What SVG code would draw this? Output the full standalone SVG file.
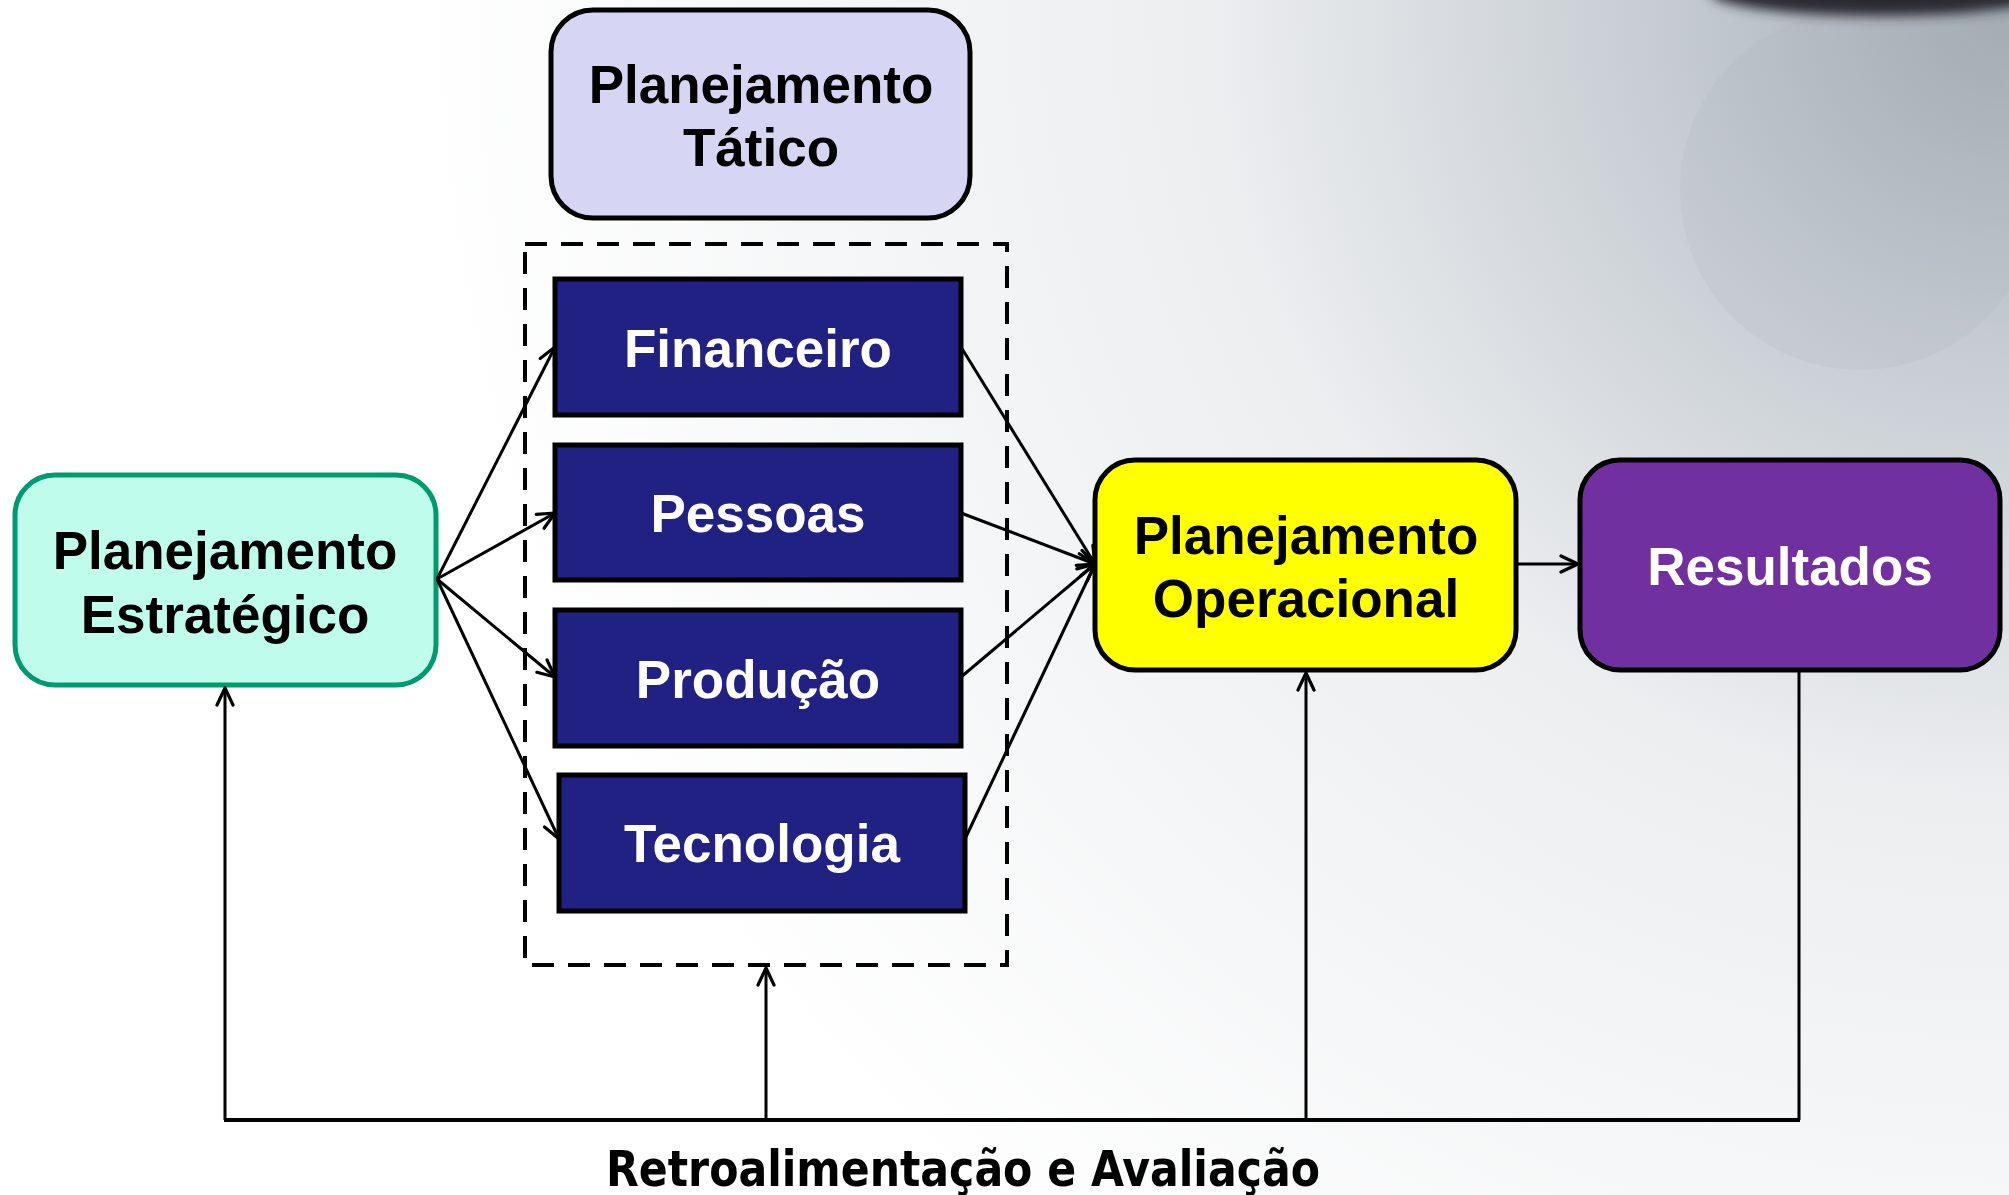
<svg xmlns="http://www.w3.org/2000/svg" width="2009" height="1195" viewBox="0 0 2009 1195">
<defs>
<radialGradient id="bg" cx="2009" cy="0" r="1600" gradientUnits="userSpaceOnUse">
<stop offset="0" stop-color="#a2aab2"/>
<stop offset="0.22" stop-color="#c6ccd2"/>
<stop offset="0.5" stop-color="#eceef0"/>
<stop offset="1" stop-color="#ffffff"/>
</radialGradient>
<filter id="blur" x="-20%" y="-50%" width="140%" height="200%"><feGaussianBlur stdDeviation="6"/></filter>
<marker id="arr" viewBox="0 0 22 22" refX="20" refY="11" markerWidth="22" markerHeight="22" markerUnits="userSpaceOnUse" orient="auto">
<path d="M3,3 L20,11 L3,19" fill="none" stroke="#000" stroke-width="3.2" stroke-linecap="round" stroke-linejoin="round"/>
</marker>
</defs>
<style>
.t{font-family:"Liberation Sans",Arial,sans-serif;font-weight:bold;font-size:53px;text-anchor:middle}
.w{fill:#fff}
.k{fill:#000}
.blue{fill:#212184;stroke:#000;stroke-width:5}
.c{stroke:#000;stroke-width:3;fill:none}
</style>
<rect width="2009" height="1195" fill="url(#bg)"/>
<circle cx="1860" cy="190" r="180" fill="#aab1b8" opacity="0.15"/>
<ellipse cx="1880" cy="-8" rx="170" ry="24" fill="#2a2c30" filter="url(#blur)"/>

<g id="tatico">
<rect x="551" y="10" width="419" height="208" rx="42" fill="#d6d6f4" stroke="#000" stroke-width="5"/>
<text class="t k" x="761" y="103">Planejamento</text>
<text class="t k" x="761" y="166">Tático</text>
</g>

<g id="grupo-tatico">
<rect x="525" y="244" width="482" height="721" fill="none" stroke="#000" stroke-width="4" stroke-dasharray="22 14"/>
</g>

<g id="financeiro">
<rect class="blue" x="555" y="279" width="406" height="136"/>
<text class="t w" x="758" y="367">Financeiro</text>
</g>
<g id="pessoas">
<rect class="blue" x="555" y="445" width="406" height="135"/>
<text class="t w" x="758" y="532">Pessoas</text>
</g>
<g id="producao">
<rect class="blue" x="555" y="610" width="406" height="136"/>
<text class="t w" x="758" y="698">Produção</text>
</g>
<g id="tecnologia">
<rect class="blue" x="559" y="775" width="406" height="136"/>
<text class="t w" x="762" y="862">Tecnologia</text>
</g>

<g id="estrategico">
<rect x="15" y="475" width="421" height="210" rx="40" fill="#c0fcec" stroke="#009a70" stroke-width="5"/>
<text class="t k" x="225" y="569">Planejamento</text>
<text class="t k" x="225" y="633">Estratégico</text>
</g>

<g id="operacional">
<rect x="1095" y="460" width="421" height="210" rx="40" fill="#ffff00" stroke="#000" stroke-width="5"/>
<text class="t k" x="1306" y="554">Planejamento</text>
<text class="t k" x="1306" y="617">Operacional</text>
</g>

<g id="resultados">
<rect x="1580" y="460" width="420" height="210" rx="40" fill="#7030a0" stroke="#000" stroke-width="5"/>
<text class="t w" x="1790" y="585">Resultados</text>
</g>

<g id="connectors">
<line class="c" x1="437" y1="579" x2="555" y2="347" marker-end="url(#arr)"/>
<line class="c" x1="437" y1="579" x2="555" y2="513" marker-end="url(#arr)"/>
<line class="c" x1="437" y1="579" x2="555" y2="677" marker-end="url(#arr)"/>
<line class="c" x1="437" y1="579" x2="559" y2="839" marker-end="url(#arr)"/>
<line class="c" x1="961" y1="347" x2="1095" y2="564" marker-end="url(#arr)"/>
<line class="c" x1="961" y1="513" x2="1095" y2="564" marker-end="url(#arr)"/>
<line class="c" x1="961" y1="677" x2="1095" y2="564" marker-end="url(#arr)"/>
<line class="c" x1="965" y1="839" x2="1095" y2="564" marker-end="url(#arr)"/>
<line class="c" x1="1516" y1="564" x2="1578" y2="564" marker-end="url(#arr)"/>
<line class="c" x1="1799" y1="672" x2="1799" y2="1120"/>
<line x1="224" y1="1120" x2="1800" y2="1120" stroke="#000" stroke-width="4"/>
<line class="c" x1="225" y1="1120" x2="225" y2="688" marker-end="url(#arr)"/>
<line class="c" x1="766" y1="1120" x2="766" y2="968" marker-end="url(#arr)"/>
<line class="c" x1="1306" y1="1120" x2="1306" y2="673" marker-end="url(#arr)"/>
</g>

<text x="963" y="1186" font-family="'DejaVu Sans Condensed','DejaVu Sans',sans-serif" font-weight="bold" font-size="50" text-anchor="middle" textLength="714" lengthAdjust="spacingAndGlyphs" fill="#000">Retroalimentação e Avaliação</text>
</svg>
